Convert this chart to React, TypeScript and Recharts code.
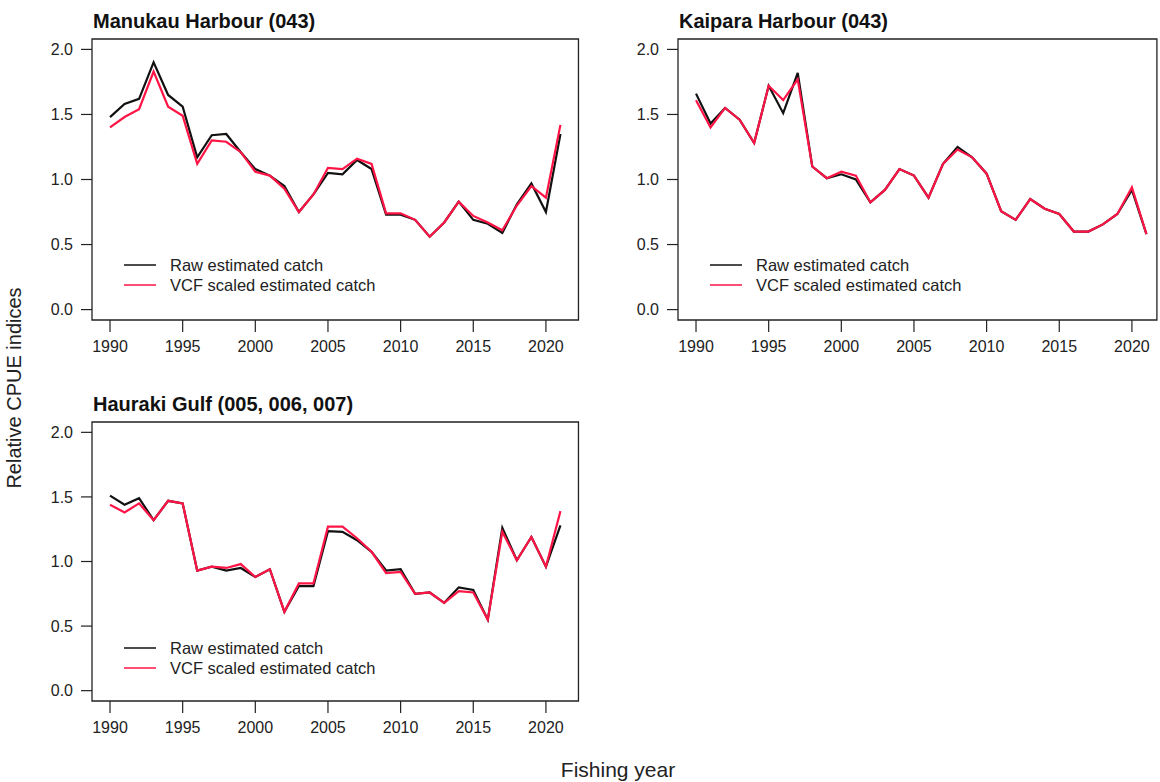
import { LineChart, Line, XAxis, YAxis, ReferenceArea, Legend } from 'recharts';

const years = [
  1990, 1991, 1992, 1993, 1994, 1995, 1996, 1997, 1998, 1999, 2000, 2001, 2002, 2003, 2004, 2005,
  2006, 2007, 2008, 2009, 2010, 2011, 2012, 2013, 2014, 2015, 2016, 2017, 2018, 2019, 2020, 2021,
];

const manukauRaw = [
  1.48, 1.58, 1.62, 1.9, 1.65, 1.56, 1.17, 1.34, 1.35, 1.21, 1.08, 1.03, 0.95, 0.75, 0.885, 1.05,
  1.04, 1.15, 1.08, 0.73, 0.73, 0.69, 0.56, 0.67, 0.83, 0.69, 0.66, 0.59, 0.81, 0.97, 0.75, 1.35,
];
const manukauVcf = [
  1.4, 1.48, 1.54, 1.83, 1.56, 1.49, 1.12, 1.3, 1.29, 1.21, 1.06, 1.03, 0.93, 0.75, 0.885, 1.09,
  1.08, 1.16, 1.12, 0.74, 0.74, 0.69, 0.56, 0.67, 0.83, 0.72, 0.67, 0.61, 0.8, 0.95, 0.86, 1.42,
];

const kaiparaRaw = [
  1.66, 1.43, 1.55, 1.46, 1.28, 1.72, 1.51, 1.82, 1.1, 1.01, 1.04, 1.0, 0.825, 0.92, 1.08, 1.03,
  0.86, 1.12, 1.25, 1.17, 1.045, 0.756, 0.69, 0.85, 0.775, 0.735, 0.6, 0.6, 0.655, 0.735, 0.92, 0.58,
];
const kaiparaVcf = [
  1.61, 1.4, 1.55, 1.46, 1.28, 1.72, 1.61, 1.77, 1.1, 1.01, 1.06, 1.03, 0.825, 0.92, 1.08, 1.03,
  0.86, 1.12, 1.23, 1.17, 1.045, 0.756, 0.69, 0.85, 0.775, 0.735, 0.6, 0.6, 0.655, 0.735, 0.94, 0.58,
];

const haurakiRaw = [
  1.51, 1.44, 1.49, 1.32, 1.47, 1.45, 0.93, 0.96, 0.93, 0.95, 0.88, 0.94, 0.61, 0.81, 0.81, 1.235,
  1.23, 1.165, 1.075, 0.93, 0.94, 0.75, 0.76, 0.68, 0.8, 0.78, 0.55, 1.26, 1.01, 1.19, 0.96, 1.28,
];
const haurakiVcf = [
  1.44, 1.38, 1.45, 1.32, 1.47, 1.45, 0.93, 0.96, 0.95, 0.98, 0.88, 0.94, 0.61, 0.83, 0.83, 1.27,
  1.27, 1.18, 1.075, 0.91, 0.92, 0.75, 0.76, 0.68, 0.77, 0.76, 0.55, 1.23, 1.01, 1.19, 0.96, 1.39,
];

const xTicks = [1990, 1995, 2000, 2005, 2010, 2015, 2020];
const yTicks = [0, 0.5, 1, 1.5, 2];
const yDomain: [number, number] = [-0.08, 2.08];

const FONT = '"Liberation Sans", Arial, Helvetica, sans-serif';
const RAW_COLOR = '#111111';
const VCF_COLOR = '#ff1446';

const makeRows = (raw: number[], vcf: number[]) =>
  years.map((year, i) => ({ year, raw: raw[i], vcf: vcf[i] }));

const LegendBox = ({ payload }: any) => (
  <div style={{ fontFamily: FONT, fontSize: 16.5, color: '#222' }}>
    {(payload || []).map((entry: any) => (
      <div key={entry.value} style={{ display: 'flex', alignItems: 'center', height: 20 }}>
        <svg width={32} height={4} style={{ marginRight: 14 }}>
          <line x1={0} y1={2} x2={32} y2={2} stroke={entry.color} strokeWidth={1.5} />
        </svg>
        <span>{entry.value}</span>
      </div>
    ))}
  </div>
);

interface PanelProps {
  title: string;
  raw: number[];
  vcf: number[];
  left: number;
  top: number;
  width: number;
  height: number;
  xDomain: [number, number];
}

function Panel({ title, raw, vcf, left, top, width, height, xDomain }: PanelProps) {
  const data = makeRows(raw, vcf);
  const right = width - 92 - (xDomain[1] - xDomain[0]) * 14.53;
  return (
    <div style={{ position: 'absolute', left, top, width, height }}>
      <div
        style={{
          position: 'absolute',
          left: 93,
          top: 10,
          fontFamily: FONT,
          fontWeight: 'bold',
          fontSize: 20,
          color: '#111',
          whiteSpace: 'nowrap',
        }}
      >
        {title}
      </div>
      <LineChart
        width={width}
        height={height}
        data={data}
        margin={{ top: 39, right: Math.max(0, right), left: 0, bottom: 0 }}
      >
        <XAxis
          dataKey="year"
          type="number"
          domain={xDomain}
          ticks={xTicks}
          allowDataOverflow
          axisLine={false}
          tickSize={12}
          tickMargin={9}
          height={51}
          tickLine={{ stroke: '#222', strokeWidth: 1.2 }}
          tick={{ fill: '#222', fontSize: 16, fontFamily: FONT }}
        />
        <YAxis
          type="number"
          domain={yDomain}
          ticks={yTicks}
          allowDataOverflow
          width={92}
          axisLine={false}
          tickSize={11}
          tickMargin={8}
          tickFormatter={(v: number) => v.toFixed(1)}
          tickLine={{ stroke: '#222', strokeWidth: 1.2 }}
          tick={{ fill: '#222', fontSize: 16, fontFamily: FONT }}
        />
        <ReferenceArea
          x1={xDomain[0]}
          x2={xDomain[1]}
          y1={yDomain[0]}
          y2={yDomain[1]}
          fill="none"
          stroke="#222"
          strokeWidth={1.3}
          fillOpacity={0}
          ifOverflow="visible"
        />
        <Legend
          layout="vertical"
          align="center"
          verticalAlign="middle"
          content={<LegendBox />}
          wrapperStyle={{ left: 124, top: 255, width: 'auto' }}
        />
        <Line
          dataKey="raw"
          name="Raw estimated catch"
          stroke={RAW_COLOR}
          strokeWidth={2.2}
          dot={false}
          isAnimationActive={false}
        />
        <Line
          dataKey="vcf"
          name="VCF scaled estimated catch"
          stroke={VCF_COLOR}
          strokeWidth={2.2}
          dot={false}
          isAnimationActive={false}
        />
      </LineChart>
    </div>
  );
}

export default function App() {
  return (
    <div
      style={{
        position: 'absolute',
        left: 0,
        top: 0,
        width: 1160,
        height: 782,
        overflow: 'hidden',
        background: '#fff',
      }}
    >
      <Panel
        title="Manukau Harbour (043)"
        raw={manukauRaw}
        vcf={manukauVcf}
        left={0}
        top={0}
        width={600}
        height={371}
        xDomain={[1988.76, 2022.24]}
      />
      <Panel
        title="Kaipara Harbour (043)"
        raw={kaiparaRaw}
        vcf={kaiparaVcf}
        left={586}
        top={0}
        width={574}
        height={371}
        xDomain={[1988.76, 2021.72]}
      />
      <Panel
        title="Hauraki Gulf (005, 006, 007)"
        raw={haurakiRaw}
        vcf={haurakiVcf}
        left={0}
        top={383}
        width={600}
        height={369}
        xDomain={[1988.76, 2022.24]}
      />
      <div
        style={{
          position: 'absolute',
          left: 14,
          top: 388,
          transform: 'translate(-50%, -50%) rotate(-90deg)',
          fontFamily: FONT,
          fontSize: 20,
          color: '#222',
          whiteSpace: 'nowrap',
        }}
      >
        Relative CPUE indices
      </div>
      <div
        style={{
          position: 'absolute',
          left: 618,
          top: 770,
          transform: 'translate(-50%, -50%)',
          fontFamily: FONT,
          fontSize: 21,
          color: '#222',
          whiteSpace: 'nowrap',
        }}
      >
        Fishing year
      </div>
    </div>
  );
}
